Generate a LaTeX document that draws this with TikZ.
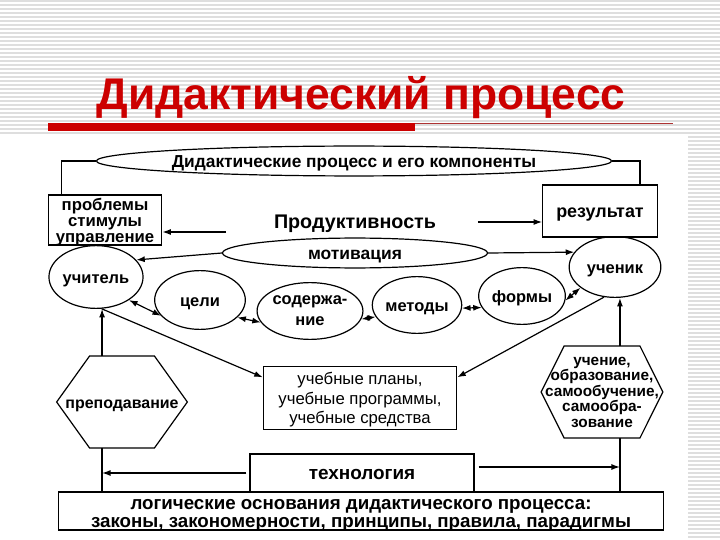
\documentclass[tikz,border=0pt]{standalone}
\usepackage{fontspec}
\setmainfont{Liberation Sans}
\usetikzlibrary{shapes.geometric,arrows.meta}

\definecolor{titlered}{RGB}{204,0,0}
\definecolor{stripe}{RGB}{222,222,222}

\newcommand{\lbl}{\bfseries\fontsize{16.5}{16.5}\selectfont}

\begin{document}
\begin{tikzpicture}[
        x=1bp, y=-1bp,
        line width=1.2bp,
        >={Latex[length=8.5bp,width=6bp]},
        oval/.style={
            ellipse,
            draw,
            inner sep=0pt,
            text depth=0pt,
            align=center,
            font=\lbl
        },
        box/.style={
            rectangle,
            draw,
            inner sep=2pt,
            text depth=0pt,
            align=center,
            font=\lbl
        },
        hexbox/.style={
            rectangle,
            inner sep=0pt,
            text depth=0pt,
            align=center,
            font=\lbl
        },
        oneline/.style={
            text height=13pt
        }
    ]

    % slide background
    \useasboundingbox (0,0) rectangle (720,540);
    \fill[white] (0,0) rectangle (720,540);
    \foreach \y in {1,5,...,133}
        \draw[stripe, line width=1.3bp] (0,\y) -- (720,\y);
    \foreach \y in {137,141,...,537}
        \draw[stripe, line width=1.3bp] (688,\y) -- (720,\y);

    \node[anchor=base, text=titlered, font=\bfseries\fontsize{44.6}{44}\selectfont] (title) at (361,110) {Дидактический процесс};
    \fill[titlered] (48,123) rectangle (415,131);
    \draw[titlered!60!gray, line width=1bp] (415,124) -- (673,124);

    % top row
    \node[oval, oneline, font=\bfseries\fontsize{17.4}{17}\selectfont, minimum width=432, minimum height=30] (comp) at (354,161) {Дидактические процесс и его компоненты};
    \node[box, inner sep=1pt, font=\bfseries\fontsize{16.8}{16}\selectfont, minimum width=114, minimum height=50] (probl) at (105,220) {проблемы\\стимулы\\управление};
    \node[box, oneline, font=\bfseries\fontsize{18}{18}\selectfont, minimum width=115, minimum height=52] (result) at (600,211) {результат};
    \node[oneline, text depth=0pt, font=\bfseries\fontsize{19.8}{20}\selectfont] (prod) at (355,222) {Продуктивность};
    \node[oval, oneline, font=\bfseries\fontsize{17.5}{17}\selectfont, minimum width=266, minimum height=30] (motiv) at (355,253) {мотивация};

    % participants and components
    \node[oval, oneline, minimum width=92, minimum height=63] (teach) at (96,277) {учитель};
    \node[oval, oneline, minimum width=92, minimum height=61] (pupil) at (615,267) {ученик};
    \node[oval, oneline, minimum width=91, minimum height=59] (goals) at (200,300) {цели};
    \node[oval, font=\bfseries\fontsize{16.5}{21}\selectfont, minimum width=91, minimum height=57] (content) at (310,311) {содержа-\\ние};
    \node[oval, oneline, minimum width=82, minimum height=57] (methods) at (417,305) {методы};
    \node[oval, oneline, minimum width=87, minimum height=57] (forms) at (522,296) {формы};

    \node[box, font=\fontsize{16.8}{19.5}\selectfont, minimum width=194, minimum height=63] (plans) at (360,398) {учебные планы,\\учебные программы,\\учебные средства};

    % hexagons
    \node[hexbox, oneline, font=\bfseries\fontsize{16}{16}\selectfont, minimum width=130, minimum height=91] (teaching) at (122,402) {преподавание};
    \draw (teaching.west) -- ([xshift=33]teaching.north west) -- ([xshift=-33]teaching.north east)
        -- (teaching.east) -- ([xshift=-33]teaching.south east) -- ([xshift=33]teaching.south west) -- cycle;
    \node[hexbox, font=\bfseries\fontsize{15.4}{15.5}\selectfont, minimum width=121, minimum height=91] (learning) at (602,392) {учение,\\образование,\\самообучение,\\самообра-\\зование};
    \draw (learning.west) -- ([xshift=23]learning.north west) -- ([xshift=-23]learning.north east)
        -- (learning.east) -- ([xshift=-23]learning.south east) -- ([xshift=23]learning.south west) -- cycle;

    % bottom
    \node[box, oneline, fill=white, minimum width=225, minimum height=38, font=\bfseries\fontsize{19}{19}\selectfont] (tech) at (362,473) {технология};
    \node[box, fill=white, minimum width=608, minimum height=38, inner sep=0pt, font=\bfseries\fontsize{18.8}{18}\selectfont] (logic) at (361,511) {\rule{0pt}{15pt}логические основания дидактического процесса:\\законы, закономерности, принципы, правила, парадигмы};

    % connectors
    \draw (comp.west) -| ([xshift=14]probl.north west);
    \draw (comp.east) -| ([xshift=-18]result.north east);

    \coordinate (pa) at ([shift={(-44,10)}]prod.west);
    \coordinate (pb) at ([shift={(38,0)}]prod.east);
    \draw[->] (pa) -- (pa -| probl.east);
    \draw[->] (pb) -- (pb -| result.west);

    \draw[->] (motiv.west) -- (teach.23);
    \draw[->] (motiv.east) -- (pupil.160);

    \draw[<->] (teach.-35) -- (goals.-158);
    \draw[<->] (goals.-25) -- (content.-167);
    \draw[<->] (content.-9) -- (methods.-164);
    \draw[<->] (methods.-4) -- (forms.-164);
    \draw[<->] (forms.-6) -- (pupil.-149);

    \draw[->] (teach.-80) -- (plans.168);
    \draw[->] (pupil.-110) -- (plans.12);

    \coordinate (tl) at ([xshift=-20]teaching.north);
    \coordinate (bl) at ([xshift=-20]teaching.south);
    \coordinate (tr) at ([xshift=18]learning.north);
    \coordinate (br) at ([xshift=18]learning.south);
    \draw[->] (tl) -- (tl |- teach.south);
    \draw[->] (tr) -- (tr |- pupil.south);
    \draw (bl) -- (bl |- logic.north);
    \draw (br) -- (br |- logic.north);

    \coordinate (ta) at ([shift={(4,-6)}]tech.east);
    \draw[->] ([xshift=-3]tech.west) -- (tech.west -| bl);
    \draw[->] (ta) -- (ta -| br);

\end{tikzpicture}
\end{document}
